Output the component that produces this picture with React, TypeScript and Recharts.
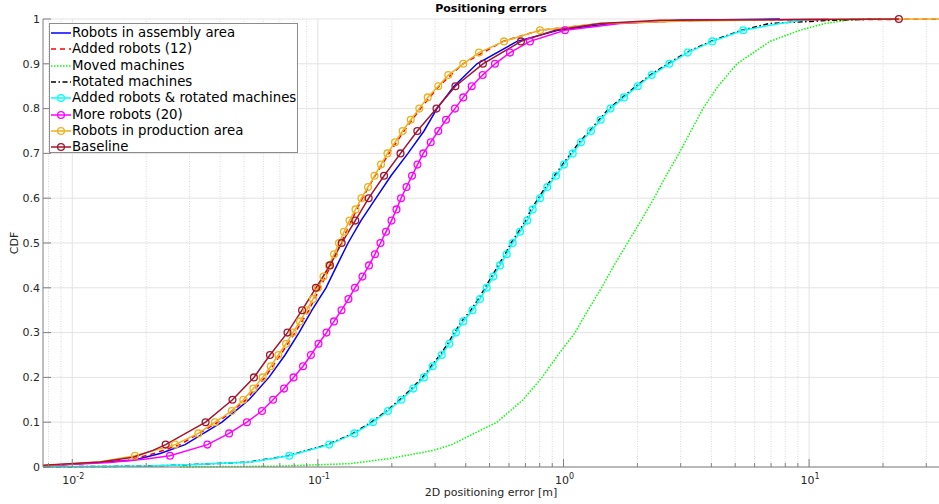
import React from 'react';
import { LineChart, Line, XAxis, YAxis, CartesianGrid, ReferenceLine, Legend } from 'recharts';

const W = 939;
const H = 504;
const PLOT_LEFT = 43;
const PLOT_TOP = 19;
const PLOT_BOTTOM = 467;
const FONT = '"DejaVu Sans", sans-serif';

const TITLE = 'Positioning errors';
const X_LABEL = '2D positioning error [m]';
const Y_LABEL = 'CDF';

const X_DOMAIN: [number, number] = [0.0076, 33.8];
const X_MAJOR = [0.01, 0.1, 1, 10];
const X_MAJOR_EXP = ['-2', '-1', '0', '1'];
const X_MINOR = [0.008, 0.009, 0.02, 0.03, 0.04, 0.05, 0.06, 0.07, 0.08, 0.09, 0.2, 0.3, 0.4, 0.5, 0.6, 0.7, 0.8, 0.9, 2, 3, 4, 5, 6, 7, 8, 9, 20, 30];
const X_TICKS = [0.008, 0.009, 0.01, 0.02, 0.03, 0.04, 0.05, 0.06, 0.07, 0.08, 0.09, 0.1, 0.2, 0.3, 0.4, 0.5, 0.6, 0.7, 0.8, 0.9, 1, 2, 3, 4, 5, 6, 7, 8, 9, 10, 20, 30];
const Y_TICKS = [0, 0.1, 0.2, 0.3, 0.4, 0.5, 0.6, 0.7, 0.8, 0.9, 1];
const Y_LABELS = ['0', '0.1', '0.2', '0.3', '0.4', '0.5', '0.6', '0.7', '0.8', '0.9', '1'];

// [error (m), CDF]
const ASSEMBLY: [number, number][] = [[0.005, 0], [0.0076, 0.002], [0.0177, 0.015], [0.0228, 0.03], [0.0288, 0.05], [0.0407, 0.1], [0.0524, 0.15], [0.0632, 0.2], [0.0735, 0.25], [0.0838, 0.3], [0.0946, 0.35], [0.1079, 0.4], [0.1196, 0.45], [0.1327, 0.5], [0.1498, 0.55], [0.1724, 0.6], [0.1985, 0.65], [0.2327, 0.7], [0.2704, 0.75], [0.3054, 0.8], [0.3583, 0.85], [0.4444, 0.9], [0.6466, 0.95], [0.95, 0.975], [1.55, 0.99], [2.98, 0.997], [7.6, 1]];
const ADDED12: [number, number][] = [[0.005, 0], [0.0076, 0.002], [0.0169, 0.015], [0.0215, 0.03], [0.0275, 0.05], [0.0392, 0.1], [0.051, 0.15], [0.0609, 0.2], [0.0704, 0.25], [0.0807, 0.3], [0.092, 0.35], [0.102, 0.4], [0.1131, 0.45], [0.1242, 0.5], [0.137, 0.55], [0.1519, 0.6], [0.1708, 0.65], [0.1948, 0.7], [0.2242, 0.75], [0.2617, 0.8], [0.3113, 0.85], [0.3897, 0.9], [0.5672, 0.95], [0.8024, 0.975], [1.41, 0.99], [3.6, 0.997], [50, 1]];
const MOVED: [number, number][] = [[0.0275, 0], [0.0701, 0.002], [0.1351, 0.0075], [0.1966, 0.019], [0.2943, 0.037], [0.3516, 0.05], [0.4046, 0.067], [0.5361, 0.1], [0.6842, 0.15], [0.8176, 0.2], [0.9498, 0.25], [1.114, 0.3], [1.258, 0.35], [1.428, 0.4], [1.606, 0.45], [1.822, 0.5], [2.069, 0.55], [2.336, 0.6], [2.615, 0.65], [2.953, 0.7], [3.304, 0.75], [3.698, 0.8], [4.257, 0.85], [5.086, 0.9], [6.931, 0.95], [9.182, 0.975], [11.61, 0.99], [15.38, 1]];
const ROTATED: [number, number][] = [[0.005, 0], [0.012, 0.001], [0.0204, 0.002], [0.0327, 0.006], [0.0522, 0.011], [0.0754, 0.025], [0.1096, 0.05], [0.1388, 0.075], [0.1651, 0.1], [0.19, 0.125], [0.2153, 0.15], [0.2409, 0.175], [0.2663, 0.2], [0.289, 0.225], [0.3144, 0.25], [0.3377, 0.275], [0.3595, 0.3], [0.3849, 0.325], [0.4197, 0.35], [0.4502, 0.375], [0.4796, 0.4], [0.51, 0.425], [0.5431, 0.45], [0.5782, 0.475], [0.6118, 0.5], [0.6552, 0.525], [0.7015, 0.55], [0.738, 0.575], [0.7904, 0.6], [0.8461, 0.625], [0.9182, 0.65], [0.99, 0.675], [1.074, 0.7], [1.16, 0.725], [1.275, 0.75], [1.397, 0.775], [1.531, 0.8], [1.738, 0.825], [1.975, 0.85], [2.252, 0.875], [2.657, 0.9], [3.156, 0.925], [3.975, 0.95], [5.316, 0.975], [6.9, 0.99], [12.2, 0.997], [19.4, 1]];
const ADDED_ROTATED: [number, number][] = [[0.005, 0], [0.012, 0.001], [0.0207, 0.002], [0.0332, 0.006], [0.053, 0.011], [0.0765, 0.025], [0.1112, 0.05], [0.1409, 0.075], [0.1676, 0.1], [0.1929, 0.125], [0.2186, 0.15], [0.2446, 0.175], [0.2704, 0.2], [0.2934, 0.225], [0.3192, 0.25], [0.3428, 0.275], [0.365, 0.3], [0.3908, 0.325], [0.4261, 0.35], [0.4571, 0.375], [0.4869, 0.4], [0.5178, 0.425], [0.5514, 0.45], [0.587, 0.475], [0.6211, 0.5], [0.6652, 0.525], [0.7122, 0.55], [0.7492, 0.575], [0.8024, 0.6], [0.859, 0.625], [0.9322, 0.65], [1.005, 0.675], [1.09, 0.7], [1.178, 0.725], [1.294, 0.75], [1.418, 0.775], [1.554, 0.8], [1.764, 0.825], [2.005, 0.85], [2.286, 0.875], [2.697, 0.9], [3.204, 0.925], [4.036, 0.95], [5.397, 0.975], [7.61, 0.99], [10.1, 0.9995]];
const MORE20: [number, number][] = [[0.005, 0], [0.0076, 0.003], [0.0142, 0.01], [0.02, 0.018], [0.025, 0.025], [0.0355, 0.05], [0.0435, 0.075], [0.0514, 0.1], [0.0592, 0.125], [0.0657, 0.15], [0.0728, 0.175], [0.0796, 0.2], [0.087, 0.225], [0.0937, 0.25], [0.1006, 0.275], [0.1084, 0.3], [0.1163, 0.325], [0.1248, 0.35], [0.1332, 0.375], [0.1416, 0.4], [0.1519, 0.425], [0.1615, 0.45], [0.1708, 0.475], [0.1798, 0.5], [0.1894, 0.525], [0.1994, 0.55], [0.2089, 0.575], [0.218, 0.6], [0.2295, 0.625], [0.2417, 0.65], [0.2544, 0.675], [0.2687, 0.7], [0.288, 0.725], [0.3092, 0.75], [0.3324, 0.775], [0.3615, 0.8], [0.3908, 0.825], [0.4229, 0.85], [0.4688, 0.875], [0.5261, 0.9], [0.6055, 0.925], [0.7305, 0.95], [1.014, 0.975], [1.7, 0.99], [3.27, 0.997], [12, 0.9995]];
const PRODUCTION: [number, number][] = [[0.005, 0], [0.0076, 0.003], [0.013, 0.012], [0.018, 0.025], [0.0262, 0.05], [0.0326, 0.075], [0.0381, 0.1], [0.0446, 0.125], [0.0497, 0.15], [0.0546, 0.175], [0.0596, 0.2], [0.0643, 0.225], [0.069, 0.25], [0.0742, 0.275], [0.079, 0.3], [0.0846, 0.325], [0.09, 0.35], [0.0955, 0.375], [0.1001, 0.4], [0.1054, 0.425], [0.111, 0.45], [0.1163, 0.475], [0.1219, 0.5], [0.1277, 0.525], [0.1345, 0.55], [0.1423, 0.575], [0.1505, 0.6], [0.16, 0.625], [0.17, 0.65], [0.1807, 0.675], [0.192, 0.7], [0.2061, 0.725], [0.2214, 0.75], [0.2388, 0.775], [0.2588, 0.8], [0.28, 0.825], [0.3092, 0.85], [0.3396, 0.875], [0.3908, 0.9], [0.4529, 0.925], [0.5725, 0.95], [0.8024, 0.975], [1.41, 0.99], [2.98, 0.995], [9.18, 0.999], [50, 1]];
const BASELINE: [number, number][] = [[0.005, 0], [0.0076, 0.004], [0.013, 0.011], [0.0177, 0.022], [0.0213, 0.037], [0.024, 0.05], [0.0349, 0.1], [0.0449, 0.15], [0.0549, 0.2], [0.0638, 0.25], [0.0752, 0.3], [0.0862, 0.35], [0.0982, 0.4], [0.112, 0.45], [0.125, 0.5], [0.142, 0.55], [0.161, 0.6], [0.186, 0.65], [0.217, 0.7], [0.254, 0.75], [0.304, 0.8], [0.363, 0.85], [0.47, 0.9], [0.671, 0.95], [0.924, 0.975], [1.41, 0.99], [2.47, 0.997], [23.2, 1]];

type Series = { name: string; pts: [number, number][]; color: string; dash?: string; step?: number };

const SERIES: Series[] = [
  { name: 'Robots in assembly area', pts: ASSEMBLY, color: '#0000ff' },
  { name: 'Added robots (12)', pts: ADDED12, color: '#ff0000', dash: '5 4' },
  { name: 'Moved machines', pts: MOVED, color: '#00ff00', dash: '1.5 1.5' },
  { name: 'Rotated machines', pts: ROTATED, color: '#000000', dash: '5 2.5 1.5 2.5' },
  { name: 'Added robots & rotated machines', pts: ADDED_ROTATED, color: '#00ffff', step: 0.025 },
  { name: 'More robots (20)', pts: MORE20, color: '#ff00ff', step: 0.025 },
  { name: 'Robots in production area', pts: PRODUCTION, color: '#edb120', step: 0.025 },
  { name: 'Baseline', pts: BASELINE, color: '#a2142f', step: 0.05 },
];

const toData = (pts: [number, number][]) => pts.map(([x, cdf]) => ({ x, cdf }));

const isMarker = (cdf: number, step?: number) => {
  if (!step || cdf <= 0) return false;
  const k = cdf / step;
  return Math.abs(k - Math.round(k)) < 1e-6;
};

const makeDot = (s: Series) => (p: any) => {
  const key = `dot-${s.name}-${p.index}`;
  if (!isMarker(p.payload?.cdf, s.step) || p.cx == null || p.cy == null) return <g key={key} />;
  return <circle key={key} cx={p.cx} cy={p.cy} r={3.4} fill="none" stroke={s.color} strokeWidth={1.3} />;
};

const XTick = (props: any) => {
  const { x, payload } = props;
  const v = payload.value;
  const mi = X_MAJOR.findIndex((m) => Math.abs(m - v) < m * 1e-6);
  const major = mi >= 0;
  return (
    <g>
      <line x1={x} x2={x} y1={PLOT_BOTTOM} y2={PLOT_BOTTOM - (major ? 8 : 4)} stroke="#808080" strokeWidth={1} />
      {major && (
        <text x={x + 1} y={484} textAnchor="middle" fontSize={11} fill="#262626" fontFamily={FONT}>
          <tspan>10</tspan>
          <tspan dy={-5} fontSize={8}>{X_MAJOR_EXP[mi]}</tspan>
        </text>
      )}
    </g>
  );
};

const YTick = (props: any) => {
  const { y, payload } = props;
  const idx = Y_TICKS.findIndex((t) => Math.abs(t - payload.value) < 1e-9);
  return (
    <g>
      <line x1={PLOT_LEFT} x2={PLOT_LEFT + 8} y1={y} y2={y} stroke="#808080" strokeWidth={1} />
      <text x={40} y={y} dy="0.35em" textAnchor="end" fontSize={11} fill="#262626" fontFamily={FONT}>
        {Y_LABELS[idx]}
      </text>
    </g>
  );
};

const LegendBox = () => (
  <div
    style={{
      width: 249,
      height: 130,
      background: '#fff',
      border: '1px solid #8c8c8c',
      boxSizing: 'border-box',
      fontFamily: FONT,
      fontSize: 13.3,
      color: '#000',
      paddingTop: 1,
    }}
  >
    {SERIES.map((s) => (
      <div key={s.name} style={{ height: 16.3, display: 'flex', alignItems: 'center', whiteSpace: 'nowrap' }}>
        <svg width={20} height={16} style={{ marginLeft: 1, flex: 'none' }}>
          <line x1={0} x2={20} y1={8} y2={8} stroke={s.color} strokeWidth={1.5} strokeDasharray={s.dash} />
          {s.step && <circle cx={10} cy={8} r={3.4} fill="none" stroke={s.color} strokeWidth={1.3} />}
        </svg>
        <span style={{ marginLeft: 1, lineHeight: '16px' }}>{s.name}</span>
      </div>
    ))}
  </div>
);

export default function App() {
  return (
    <div style={{ position: 'absolute', left: 0, top: 0, width: W, height: H, background: '#fff' }}>
      <LineChart width={W} height={H} margin={{ top: PLOT_TOP, right: 0, left: 0, bottom: 0 }}>
        <CartesianGrid vertical={false} stroke="#e3e3e3" strokeWidth={1} />
        {X_MINOR.map((v) => (
          <ReferenceLine key={`mn-${v}`} x={v} stroke="#dadada" strokeDasharray="1 1.5" strokeWidth={1} />
        ))}
        {X_MAJOR.map((v) => (
          <ReferenceLine key={`mj-${v}`} x={v} stroke="#e3e3e3" strokeWidth={1} />
        ))}
        <XAxis
          dataKey="x"
          type="number"
          scale="log"
          domain={X_DOMAIN}
          allowDataOverflow
          ticks={X_TICKS}
          interval={0}
          tick={<XTick />}
          tickLine={false}
          axisLine={{ stroke: '#808080' }}
          height={H - PLOT_BOTTOM}
        />
        <YAxis
          type="number"
          domain={[0, 1]}
          ticks={Y_TICKS}
          interval={0}
          tick={<YTick />}
          tickLine={false}
          axisLine={{ stroke: '#808080' }}
          width={PLOT_LEFT}
        />
        {SERIES.map((s) => (
          <Line
            key={s.name}
            name={s.name}
            data={toData(s.pts)}
            dataKey="cdf"
            type="linear"
            stroke={s.color}
            strokeWidth={1.5}
            strokeDasharray={s.dash}
            dot={makeDot(s)}
            activeDot={false}
            isAnimationActive={false}
          />
        ))}
        <Legend
          layout="horizontal"
          verticalAlign="middle"
          align="center"
          wrapperStyle={{ left: 49, top: 23, width: 249, height: 130 }}
          content={() => <LegendBox />}
        />
      </LineChart>
      <div
        style={{
          position: 'absolute',
          left: PLOT_LEFT,
          width: W - PLOT_LEFT,
          top: 2,
          textAlign: 'center',
          fontFamily: FONT,
          fontWeight: 'bold',
          fontSize: 11,
          color: '#000',
        }}
      >
        {TITLE}
      </div>
      <div
        style={{
          position: 'absolute',
          left: PLOT_LEFT,
          width: W - PLOT_LEFT,
          top: 486,
          textAlign: 'center',
          fontFamily: FONT,
          fontSize: 11,
          color: '#262626',
        }}
      >
        {X_LABEL}
      </div>
      <div
        style={{
          position: 'absolute',
          left: 14,
          top: 243,
          transform: 'translate(-50%, -50%) rotate(-90deg)',
          fontFamily: FONT,
          fontSize: 11,
          color: '#262626',
          whiteSpace: 'nowrap',
        }}
      >
        {Y_LABEL}
      </div>
    </div>
  );
}
